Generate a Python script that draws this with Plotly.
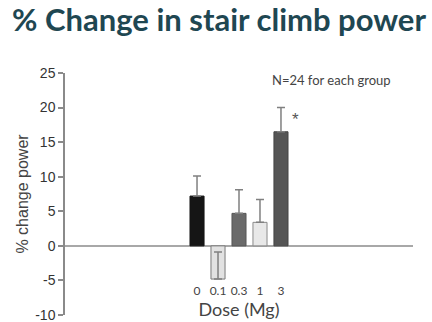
import plotly.graph_objects as go

# Dose groups and mean % change in stair climb power
doses = ["0", "0.1", "0.3", "1", "3"]
pct_change = [7.2, -4.8, 4.7, 3.4, 16.5]
err_plus = [2.9, 3.9, 3.4, 3.3, 3.5]
err_minus = [0, 0, 0, 0, 0]

bar_fill = ["#151515", "#e2e2e2", "#6a6a6a", "#e8e8e8", "#555555"]
bar_edge = ["#151515", "#7a7a7a", "#555555", "#8a8a8a", "#444444"]

y_ticks = [25, 20, 15, 10, 5, 0, -5, -10]
y_tick_text = ["25", "20", "15", "10", "5", "0", "-5", "-10"]

fig = go.Figure()
fig.add_trace(go.Bar(
    x=doses,
    y=pct_change,
    marker=dict(color=bar_fill, line=dict(color=bar_edge, width=1)),
    error_y=dict(type="data", symmetric=False, array=err_plus,
                 arrayminus=err_minus, color="#808080",
                 thickness=1.5, width=4),
    width=0.67,
    showlegend=False,
))

fig.update_layout(
    width=432, height=322,
    margin=dict(l=65, r=19, t=73, b=7),
    paper_bgcolor="white", plot_bgcolor="white",
    title=dict(text="<b>% Change in stair climb power</b>",
               x=0.507, xanchor="center", xref="container",
               y=0.938, yanchor="middle", yref="container",
               font=dict(family="Lato", size=31, color="#1f4752")),
    xaxis=dict(type="category", range=[-6.29, 10.29],
               showline=False, showgrid=False, zeroline=False,
               ticks="", anchor="free", position=0.135, automargin=False,
               tickfont=dict(family="Lato", size=12, color="#444"),
               title=dict(text="Dose (Mg)", standoff=1,
                          font=dict(family="Lato", size=18, color="#444"))),
    yaxis=dict(range=[-10, 25], tickvals=y_ticks, ticktext=y_tick_text,
               ticklabeloverflow="allow", automargin=False,
               showline=True, linecolor="#8a8a8a", linewidth=1.5,
               ticks="outside", ticklen=5, tickcolor="#8a8a8a", tickwidth=1.5,
               showgrid=False,
               zeroline=True, zerolinecolor="#a8a8a8", zerolinewidth=2,
               tickfont=dict(family="Liberation Sans", size=14, color="#333"),
               title=dict(text="% change power", standoff=3,
                          font=dict(family="Liberation Sans", size=16, color="#444"))),
    annotations=[
        dict(text="N=24 for each group", xref="paper", yref="paper",
             x=0.767, y=0.971, xanchor="center", yanchor="middle",
             showarrow=False,
             font=dict(family="Lato", size=13, color="#444")),
        dict(text="*", xref="x", yref="y", x=4, y=18.3,
             xshift=15, xanchor="center", yanchor="middle",
             showarrow=False,
             font=dict(family="Liberation Sans", size=17, color="#555")),
    ],
)

fig.write_html("out.html")
